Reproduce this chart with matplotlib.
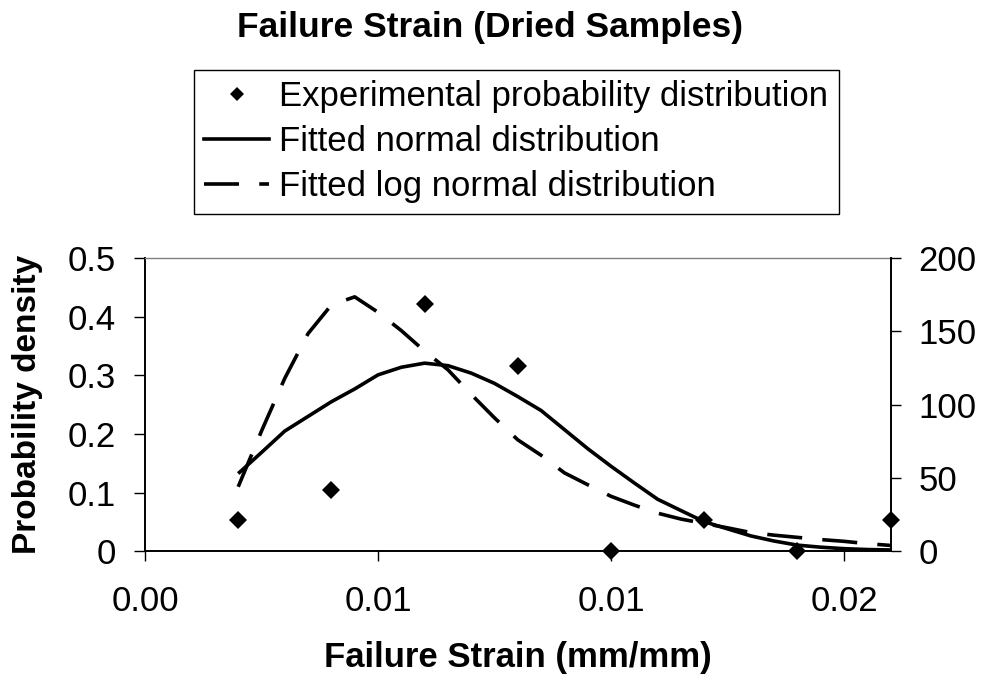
import matplotlib
matplotlib.use("Agg")
import matplotlib.pyplot as plt
from matplotlib.lines import Line2D

plt.rcParams['font.family'] = ['Liberation Sans', 'DejaVu Sans']

# Experimental probability of failure strain per bin (left axis)
strain_bins = [0.002, 0.004, 0.006, 0.008, 0.010, 0.012, 0.014, 0.016]
experimental_prob = [0.0526, 0.1053, 0.4211, 0.3158, 0.0, 0.0526, 0.0, 0.0526]

# Fitted probability density curves (right axis)
strain_fit = [0.0020, 0.0025, 0.0030, 0.0035, 0.0040, 0.0045, 0.0050, 0.0055,
              0.0060, 0.0065, 0.0070, 0.0075, 0.0080, 0.0085, 0.0090, 0.0095,
              0.0100, 0.0105, 0.0110, 0.0115, 0.0120, 0.0125, 0.0130, 0.0135,
              0.0140, 0.0145, 0.0150, 0.0155, 0.0160]
normal_fit = [53.0, 67.4, 82.0, 92.0, 102.0, 110.7, 120.3, 125.5,
              128.3, 126.6, 121.5, 114.5, 105.5, 96.0, 83.0, 70.0,
              58.0, 46.6, 35.5, 27.8, 20.2, 15.3, 10.5, 7.0,
              4.2, 2.8, 1.8, 1.2, 0.9]
lognormal_fit = [44.0, 82.0, 118.0, 148.5, 168.0, 173.5, 163.0, 150.5,
                 136.5, 123.8, 107.0, 91.0, 76.0, 65.5, 53.5, 45.4,
                 37.5, 31.5, 26.0, 22.0, 19.0, 16.0, 12.8, 11.0,
                 9.5, 8.0, 6.8, 5.2, 4.0]

x_ticks = [0.000, 0.005, 0.010, 0.015]
x_tick_labels = ["0.00", "0.01", "0.01", "0.02"]
left_ticks = [0.0, 0.1, 0.2, 0.3, 0.4, 0.5]
left_tick_labels = ["0", "0.1", "0.2", "0.3", "0.4", "0.5"]
right_ticks = [0, 50, 100, 150, 200]
right_tick_labels = ["0", "50", "100", "150", "200"]

W, H = 984, 676
fig = plt.figure(figsize=(W / 100, H / 100), dpi=100)
fig.patch.set_facecolor('white')

ax = fig.add_axes([145 / W, (H - 551.3) / H, 745.6 / W, 293.3 / H])
ax2 = ax.twinx()

# Experimental points
ax.plot(strain_bins, experimental_prob, linestyle='none', marker='D',
        markersize=9.5, color='black', markeredgewidth=0,
        clip_on=False, zorder=5)

# Fitted curves
ax2.plot(strain_fit, normal_fit, color='black', linewidth=2.6,
         solid_joinstyle='round', solid_capstyle='butt')
ax2.plot(strain_fit, lognormal_fit, color='black', linewidth=2.6,
         linestyle=(0, (9.7, 5.6)), dash_capstyle='butt')

ax.set_xlim(0, 0.016)
ax.set_ylim(0, 0.5)
ax2.set_ylim(0, 200)

ax.set_xticks(x_ticks)
ax.set_xticklabels(x_tick_labels)
ax.set_yticks(left_ticks)
ax.set_yticklabels(left_tick_labels)
ax2.set_yticks(right_ticks)
ax2.set_yticklabels(right_tick_labels)

ax.tick_params(axis='y', direction='out', length=8, width=1, labelsize=25, pad=13)
ax.tick_params(axis='x', direction='out', length=7, width=1, labelsize=25, pad=17)
ax2.tick_params(axis='y', direction='out', length=7, width=1, labelsize=25, pad=13)

for side in ('left', 'bottom'):
    ax.spines[side].set_color('black')
    ax.spines[side].set_linewidth(1.4)
ax.spines['top'].set_color('#808080')
ax.spines['top'].set_linewidth(1.0)
ax.spines['right'].set_visible(False)
for side in ('left', 'top', 'bottom'):
    ax2.spines[side].set_visible(False)
ax2.spines['right'].set_color('black')
ax2.spines['right'].set_linewidth(1.4)

ax.set_xlabel("Failure Strain (mm/mm)", fontsize=25, fontweight='bold')
ax.xaxis.set_label_coords(0.5, (551.3 - 657) / 293.3)
ax.xaxis.label.set_va('center')

ax.set_ylabel("Probability density", fontsize=24, fontweight='bold')
ax.yaxis.set_label_coords((27 - 145) / 745.6, 0.5)
ax.yaxis.label.set_va('center')

fig.suptitle("Failure Strain (Dried Samples)", x=490 / W, y=1 - 28 / H,
             va='center', fontsize=25.5, fontweight='bold')

handles = [
    Line2D([], [], linestyle='none', marker='D', markersize=9.5,
           color='black', markeredgewidth=0),
    Line2D([], [], color='black', linewidth=2.6),
    Line2D([], [], color='black', linewidth=2.6, linestyle=(0, (9.7, 5.6)),
           dash_capstyle='butt'),
]
labels = ["Experimental probability distribution",
          "Fitted normal distribution",
          "Fitted log normal distribution"]
leg = fig.legend(handles, labels, loc='upper left',
                 bbox_to_anchor=(194 / W, 1 - 70 / H),
                 bbox_transform=fig.transFigure, borderaxespad=0,
                 fontsize=25, frameon=True, fancybox=False,
                 edgecolor='black', framealpha=1, borderpad=0.3,
                 handlelength=1.87, handletextpad=0.29, labelspacing=0.346,
                 markerscale=0.7)
leg.get_frame().set_linewidth(1.0)

fig.savefig("out.png", dpi=100)
